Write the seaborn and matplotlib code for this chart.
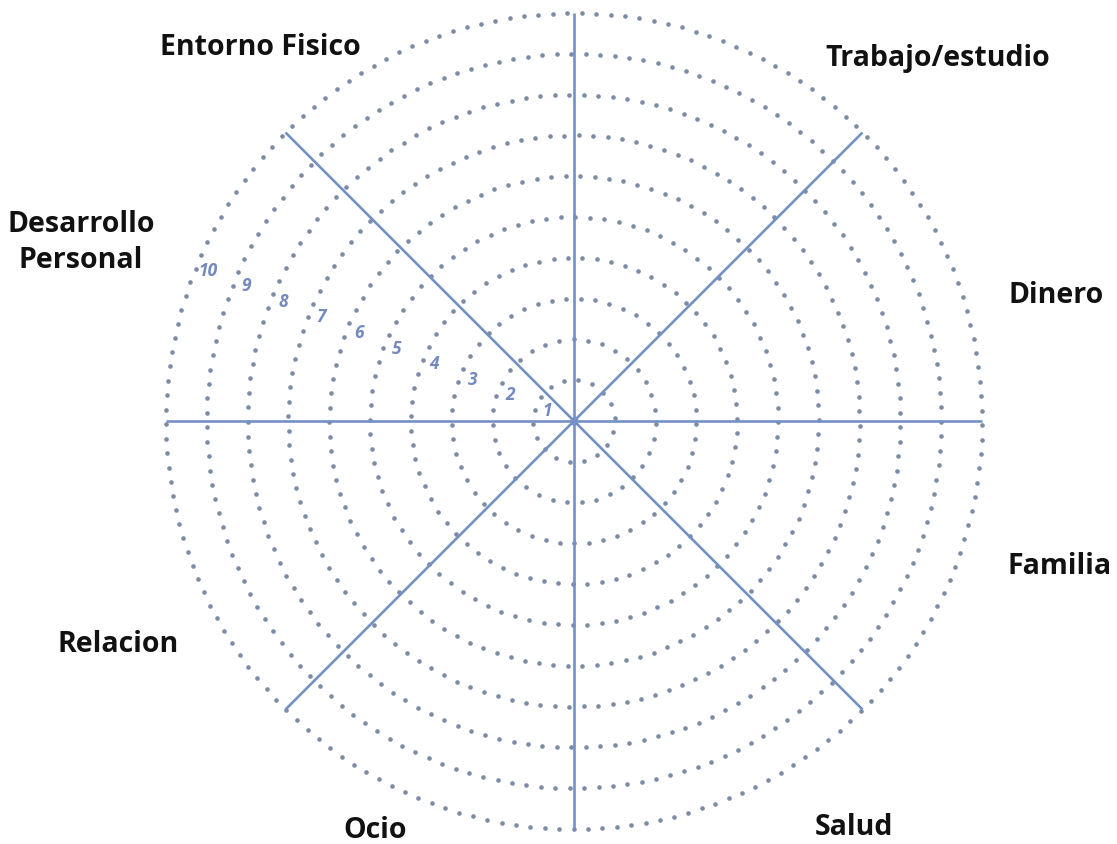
import matplotlib
matplotlib.use("Agg")
import matplotlib.pyplot as plt
import numpy as np
import pandas as pd
import seaborn as sns

# ── data ──────────────────────────────────────────────────────────────────────
categories = ["Trabajo/estudio", "Dinero", "Familia", "Salud",
              "Ocio", "Relacion", "Desarrollo\nPersonal", "Entorno Fisico"]
levels = list(range(1, 11))                 # ring values 1..10
spoke_angles = [0, 45, 90, 135]             # degrees, each line goes through centre
number_angle = 157.5                        # where the 1..10 labels sit

# ── layout (pixels in the 1117x845 picture) ───────────────────────────────────
W, H = 1117, 845
CX, CY = 574, 422                           # wheel centre
UNIT = 40.8                                 # pixels per ring step
label_pos = {                               # centre x, baseline y
    "Trabajo/estudio": (938, 66),
    "Dinero": (1056, 303),
    "Familia": (1060, 574),
    "Salud": (854, 835),
    "Ocio": (375, 838),
    "Relacion": (118, 652),
    "Desarrollo\nPersonal": (81, 268),
    "Entorno Fisico": (260, 55),
}

DOT = "#7d8ca6"
LINE = "#7391c4"
NUM = "#7489bd"

sns.set_theme(style="white")
plt.rcParams["font.family"] = ["Open Sans", "DejaVu Sans"]

fig = plt.figure(figsize=(W / 100, H / 100), dpi=100)
ax = fig.add_axes([0, 0, 1, 1])
ax.set_xlim(-CX / UNIT, (W - CX) / UNIT)
ax.set_ylim(-(H - CY) / UNIT, CY / UNIT)
ax.set_axis_off()

# dotted rings – roughly even spacing of dots along each circle
rows = []
for r in levels:
    n = int(round(2 * np.pi * r * UNIT / 14.5))
    t = np.linspace(0, 2 * np.pi, n, endpoint=False) + 0.07 * r
    rows.append(pd.DataFrame({"x": r * np.cos(t), "y": r * np.sin(t), "ring": r}))
dots = pd.concat(rows, ignore_index=True)
sns.scatterplot(data=dots, x="x", y="y", color=DOT, s=11, linewidth=0,
                legend=False, ax=ax, zorder=2)

# spokes
rmax = max(levels)
for a in spoke_angles:
    th = np.deg2rad(a)
    ax.plot([-rmax * np.cos(th), rmax * np.cos(th)],
            [-rmax * np.sin(th), rmax * np.sin(th)],
            color=LINE, lw=1.9, solid_capstyle="butt", zorder=3)
ax.plot([0], [0], "o", color=LINE, ms=5, zorder=4)

# ring numbers
th = np.deg2rad(number_angle)
for r in levels:
    rr = r - 0.3
    ax.text(rr * np.cos(th), rr * np.sin(th), str(r), color=NUM,
            fontsize=12.5, fontstyle="italic", fontweight="bold",
            ha="center", va="center", zorder=5)

# category labels
for cat in categories:
    px, py = label_pos[cat]
    fig.text(px / W, 1 - py / H, cat, ha="center", va="baseline",
             fontsize=20.5, fontweight="bold", color="#111111",
             linespacing=1.3, multialignment="center")

fig.savefig("out.png", dpi=100)
